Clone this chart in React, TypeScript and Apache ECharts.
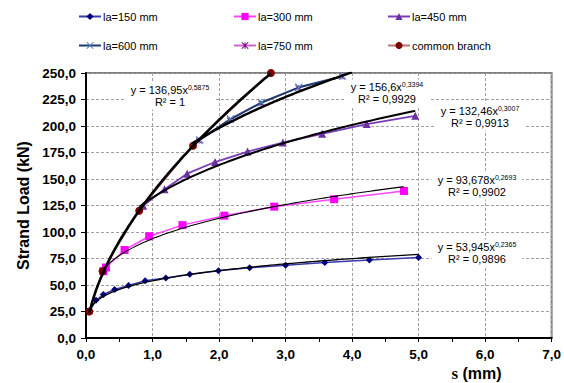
import React, { useEffect, useRef } from "react";
import * as echarts from "echarts";

// ---- data ----
const seriesNames = ["la=150 mm", "la=300 mm", "la=450 mm", "la=600 mm", "la=750 mm", "common branch"];

const la150X = [0.05, 0.15, 0.26, 0.43, 0.64, 0.89, 1.2, 1.56, 1.99, 2.46, 3.0, 3.59, 4.26, 5.0];
const la150Y = [25, 35.6, 41, 45.7, 49.5, 54, 56.7, 60.2, 63.4, 66.2, 68.7, 71.3, 73.5, 76];

const la300X = [0.26, 0.3, 0.58, 0.95, 1.45, 2.08, 2.83, 3.73, 4.78];
const la300Y = [63, 66.5, 83, 96, 106.5, 115.4, 123.9, 130.9, 138.7];

const la450X = [0.86, 1.18, 1.52, 1.94, 2.43, 2.96, 3.55, 4.22, 4.95];
const la450Y = [124.8, 140.3, 155, 166, 175.9, 184.4, 192.6, 201.8, 209.6];

const la600X = [1.71, 2.17, 2.64, 3.2, 3.86];
const la600Y = [186.9, 206.5, 222.2, 236.5, 247];

const la750X = [1.7, 2.16, 2.63, 3.19, 3.85];
const la750Y = [186, 205.5, 221.5, 236, 246.5];

const commonX = [0.05, 0.25, 0.8, 1.61, 2.78];
const commonY = [25, 63, 120, 181.3, 250];

// power trendlines y = a * x^b shown on the chart
const trendA = [53.945, 93.678, 132.46, 156.6, 136.95];
const trendB = [0.2365, 0.2693, 0.3007, 0.3394, 0.5875];
const trendR2 = ["0,9896", "0,9902", "0,9913", "0,9929", "1"];
const trendFrom = [0.05, 0.26, 0.8, 1.6, 0.05];
const trendTo = [5.0, 4.78, 4.95, 4.0, 2.78];

const xTicks = [0, 7, 1];
const yTicks = [0, 250, 25];

const comma = (v: number, d?: number) =>
  (d === undefined ? String(v) : v.toFixed(d)).replace(".", ",");

const zip = (xs: number[], ys: number[]) => xs.map((x, i) => [x, ys[i]]);

const trendPoints = (i: number) => {
  const n = 80;
  const pts: number[][] = [];
  for (let k = 0; k <= n; k++) {
    const x = trendFrom[i] + ((trendTo[i] - trendFrom[i]) * k) / n;
    pts.push([x, trendA[i] * Math.pow(x, trendB[i])]);
  }
  return pts;
};

const X_SYM = "path://M1,0L5,4L9,0L10,1L6,5L10,9L9,10L5,6L1,10L0,9L4,5L0,1Z";
const STAR_SYM =
  "path://M1,0L5,4L9,0L10,1L6,5L10,9L9,10L5,6L1,10L0,9L4,5L0,1Z M4.4,0L5.6,0L5.6,10L4.4,10Z";

export default function App() {
  const ref = useRef<HTMLDivElement>(null);
  useEffect(() => {
    if (!ref.current) return;
    const chart = echarts.init(ref.current, undefined, { renderer: "svg" });
    const font = "Liberation Sans, Arial, sans-serif";

    const styles = [
      { line: "#3a3aa8", mark: "#00007f", symbol: "diamond", size: 7, w: 1.5, z: 2 },
      { line: "#ff44ff", mark: "#ff00ff", symbol: "rect", size: 8, w: 1.5, z: 2 },
      { line: "#7a3db8", mark: "#6a2fa0", symbol: "triangle", size: 8, w: 1.8, z: 2 },
      { line: "#1f3a6e", mark: "#4f7fbf", symbol: X_SYM, size: 8, w: 2, z: 2 },
      { line: "#cc66cc", mark: "#800080", symbol: STAR_SYM, size: 6, w: 1.2, z: 1 },
      { line: "#c07070", mark: "#7f0000", symbol: "circle", size: 8, w: 1, z: 2 },
    ];
    const datas = [
      zip(la150X, la150Y),
      zip(la300X, la300Y),
      zip(la450X, la450Y),
      zip(la600X, la600Y),
      zip(la750X, la750Y),
      zip(commonX, commonY),
    ];
    const dataSeries = seriesNames.map((name, i) => ({
      name,
      type: "line",
      data: datas[i],
      symbol: styles[i].symbol,
      symbolSize: styles[i].size,
      lineStyle: { color: styles[i].line, width: styles[i].w },
      itemStyle: { color: styles[i].mark },
      z: styles[i].z,
    }));
    const trendWidths = [1.3, 1.1, 2, 2.4, 2.6];
    const trendSeries = trendA.map((_, i) => ({
      name: "trend" + i,
      type: "line",
      data: trendPoints(i),
      showSymbol: false,
      symbol: "none",
      lineStyle: { color: "#000", width: trendWidths[i] },
      z: 3,
      silent: true,
    }));

    const legendLeft = [78, 233, 387];
    const legendTop = [11, 40];
    const legends = seriesNames.map((n, i) => ({
      data: [n],
      left: legendLeft[i % 3],
      top: legendTop[Math.floor(i / 3)],
      itemWidth: 22,
      itemHeight: 9,
      padding: 0,
      selectedMode: false,
      textStyle: { fontSize: 11, fontFamily: font, color: "#000", padding: [0, 0, 0, -3] },
    }));

    // annotation positions (pixel centres of text boxes)
    const annX = [477, 477, 480, 387, 170];
    const annY = [253, 186, 117, 93, 96];
    const annotations = trendA.map((a, i) => ({
      type: "text",
      x: annX[i],
      y: annY[i],
      z: 10,
      style: {
        text: `{a|y = ${comma(a)}x}{s|${comma(trendB[i])}}\n{a|R² = ${trendR2[i]}}`,
        align: "center",
        verticalAlign: "middle",
        backgroundColor: "#fff",
        padding: [1, 6, 1, 6],
        fill: "#000",
        rich: {
          a: { fontSize: 11, fontFamily: font, lineHeight: 12.5, fill: "#000" },
          s: { fontSize: 7, fontFamily: font, lineHeight: 12.5, verticalAlign: "top", fill: "#000" },
        },
      },
    }));

    chart.setOption({
      animation: false,
      backgroundColor: "#fff",
      legend: legends,
      grid: {
        left: 86,
        right: 12,
        top: 73,
        bottom: 45,
        show: true,
        borderColor: "#7f7f7f",
        borderWidth: 2,
      },
      xAxis: {
        type: "value",
        min: xTicks[0],
        max: xTicks[1],
        interval: xTicks[2],
        name: "{s|s} (mm)",
        nameLocation: "end",
        nameGap: -50,
        nameTextStyle: {
          align: "right",
          verticalAlign: "top",
          padding: [27, 0, 0, 0],
          fontSize: 16,
          fontWeight: "bold",
          fontFamily: font,
          color: "#000",
          rich: {
            s: { fontSize: 17, fontWeight: "bold", fontFamily: "Liberation Serif, Times New Roman, serif", color: "#000" },
          },
        },
        axisLine: { show: true, onZero: false, lineStyle: { color: "#000", width: 2 } },
        axisTick: { show: true, length: 4, lineStyle: { color: "#000" } },
        minorTick: { show: true, splitNumber: 2, length: 4, lineStyle: { color: "#000" } },
        axisLabel: {
          formatter: (v: number) => comma(v, 1),
          fontSize: 13.5,
          fontWeight: "bold",
          fontFamily: font,
          color: "#000",
          margin: 9,
        },
        splitLine: { show: true, lineStyle: { color: "#a0a0a0", type: [3, 2], width: 1 } },
      },
      yAxis: {
        type: "value",
        min: yTicks[0],
        max: yTicks[1],
        interval: yTicks[2],
        name: "Strand Load (kN)",
        nameLocation: "middle",
        nameGap: 53,
        nameTextStyle: { fontSize: 16, fontWeight: "bold", fontFamily: font, color: "#000" },
        axisLine: { show: true, onZero: false, lineStyle: { color: "#000", width: 2 } },
        axisTick: { show: true, length: 5, lineStyle: { color: "#000" } },
        axisLabel: {
          formatter: (v: number) => comma(v, 1),
          fontSize: 13.5,
          fontWeight: "bold",
          fontFamily: font,
          color: "#000",
          margin: 10,
        },
        splitLine: { show: true, lineStyle: { color: "#a0a0a0", type: [3, 2], width: 1 } },
      },
      graphic: annotations,
      series: [...dataSeries, ...trendSeries],
    });
    return () => chart.dispose();
  }, []);
  return <div ref={ref} style={{ width: 564, height: 383, position: "absolute", left: 0, top: 0 }} />;
}
